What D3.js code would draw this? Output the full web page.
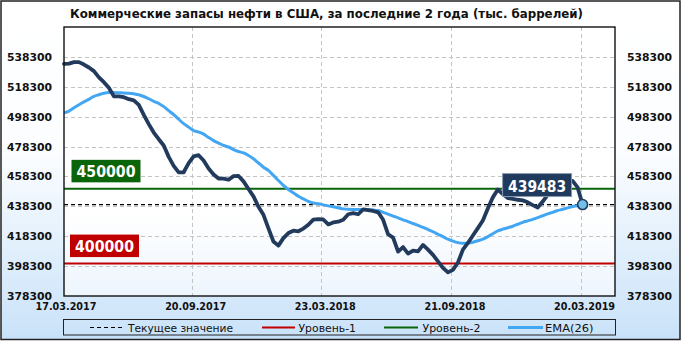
<!DOCTYPE html>
<html><head><meta charset="utf-8">
<script src="https://cdn.jsdelivr.net/npm/d3@7"></script>
<style>html,body{margin:0;padding:0;background:#fff;}svg{display:block;}</style>
</head><body>
<script>
// ---------- data ----------
const tickIndex = [0, 26, 52, 78, 104];
const tickLabels = ["17.03.2017", "20.09.2017", "23.03.2018", "21.09.2018", "20.03.2019"];
const yTicks = [378300, 398300, 418300, 438300, 458300, 478300, 498300, 518300, 538300];
const stocks = [
 533600,533800,534800,534800,533200,531200,528800,524600,521400,517600,
 511900,511900,511300,510000,509200,506200,499500,493300,487700,483200,
 479000,471400,465400,461000,461100,467200,471800,472500,469000,463600,
 459600,456900,456900,456100,458500,458600,455000,449900,445000,438000,
 432600,423600,414800,412000,417000,420400,422000,421600,423400,426000,
 429400,429800,429500,426200,427500,428000,429300,433000,433800,433000,
 436300,435800,435200,434300,429300,419600,417400,408000,411000,406700,
 408700,408100,412500,409300,405800,401500,397100,394100,395800,400700,
 409300,413800,418800,423700,428800,436800,444300,449500,446500,443800,
 443300,442700,442300,441000,439100,437500,441500,446000,450300,452600,
 453900,455000,455300,451000,439483
];
const ema26 = [
 500800,502000,504200,506300,508200,509900,511900,513000,514000,514400,
 514400,514300,514200,514000,513600,513000,511800,510300,508600,507100,
 505000,502300,499600,496600,493600,491300,489000,488000,486600,484300,
 482300,480600,479000,478000,476300,475000,474000,472300,470100,467300,
 464500,462300,459000,455600,452300,449600,447300,445000,443300,441600,
 440500,440100,439300,438600,438000,437300,436600,436300,436200,436200,
 436100,436000,435800,435500,434300,433100,431800,430600,429300,428100,
 426800,425500,424200,422800,421300,419600,418000,416300,415000,414000,
 413600,413600,414300,415300,416300,418000,420000,421800,423000,424000,
 425000,426300,427600,428600,429600,430700,432000,433300,434300,435500,
 436300,437300,438200,438800,439483
];
const level1 = 400000;
const level2 = 450000;
const currentValue = 439483;
const titleText = "Коммерческие запасы нефти в США, за последние 2 года (тыс. баррелей)";
const legendLabels = ["Текущее значение", "Уровень-1", "Уровень-2", "EMA(26)"];

// ---------- layout ----------
const W = 682, H = 341;
const P = {l: 64, r: 615, t: 27, b: 296};
const FONT = "DejaVu Sans";
const cNavy = "#223a5c", cBlue = "#42a6f3", cRed = "#c00000", cGreen = "#0a650a";

const svg = d3.select("body").append("svg").attr("width", W).attr("height", H)
  .style("font-family", FONT);
const defs = svg.append("defs");
const g1 = defs.append("linearGradient").attr("id", "bg").attr("x1", 0).attr("y1", 0).attr("x2", 0).attr("y2", 1);
g1.append("stop").attr("offset", "0").attr("stop-color", "#ffffff");
g1.append("stop").attr("offset", "0.45").attr("stop-color", "#fbfdff");
g1.append("stop").attr("offset", "1").attr("stop-color", "#c9e2f9");
const g2 = defs.append("linearGradient").attr("id", "pbg").attr("x1", 0).attr("y1", 0).attr("x2", 0).attr("y2", 1);
g2.append("stop").attr("offset", "0").attr("stop-color", "#ffffff");
g2.append("stop").attr("offset", "0.7").attr("stop-color", "#ffffff");
g2.append("stop").attr("offset", "1").attr("stop-color", "#edf5fd");

svg.append("rect").attr("x", 1).attr("y", 1).attr("width", 679).attr("height", 338.5)
  .attr("fill", "url(#bg)").attr("stroke", "#222").attr("stroke-width", 1.5);

const x = d3.scaleLinear().domain([0, 110.5]).range([P.l, P.r]);
const y = d3.scaleLinear().domain([378300, 558300]).range([P.b, P.t]);

svg.append("rect").attr("x", P.l).attr("y", P.t).attr("width", P.r - P.l).attr("height", P.b - P.t)
  .attr("fill", "url(#pbg)");

// grid
const grid = svg.append("g").attr("stroke", "#c4c4c4").attr("stroke-width", 1).attr("stroke-dasharray", "4,3");
grid.selectAll("line.h").data(yTicks.filter(v => v > 378300)).join("line")
  .attr("x1", P.l).attr("x2", P.r).attr("y1", d => Math.round(y(d)) + 0.5).attr("y2", d => Math.round(y(d)) + 0.5);
grid.selectAll("line.v").data(tickIndex.slice(1)).join("line")
  .attr("y1", P.t).attr("y2", P.b).attr("x1", d => Math.round(x(d)) - 1.5).attr("x2", d => Math.round(x(d)) - 1.5);

// axes labels
const fmt = d3.format("d");
const yAxisL = d3.axisLeft(y).tickValues(yTicks).tickFormat(fmt).tickSize(0).tickPadding(12);
const yAxisR = d3.axisRight(y).tickValues(yTicks).tickFormat(fmt).tickSize(0).tickPadding(12);
const gl = svg.append("g").attr("transform", `translate(${P.l},0)`).call(yAxisL);
const gr = svg.append("g").attr("transform", `translate(${P.r},0)`).call(yAxisR);
[gl, gr].forEach(g => {
  g.select(".domain").remove();
  g.selectAll("text").attr("font-family", FONT).attr("font-size", 10.8).attr("font-weight", "bold")
    .attr("fill", "#111").attr("textLength", 45).attr("lengthAdjust", "spacingAndGlyphs");
});
const xAxis = d3.axisBottom(x).tickValues(tickIndex).tickFormat((d, i) => tickLabels[i]).tickSize(0).tickPadding(7);
const gx = svg.append("g").attr("transform", `translate(1.5,${P.b})`).call(xAxis);
gx.select(".domain").remove();
gx.selectAll("text").attr("font-family", FONT).attr("font-size", 10.5).attr("font-weight", "bold")
  .attr("fill", "#111").attr("textLength", 61).attr("lengthAdjust", "spacingAndGlyphs");

// level lines
svg.append("line").attr("x1", P.l).attr("x2", P.r).attr("y1", y(level2)).attr("y2", y(level2))
  .attr("stroke", cGreen).attr("stroke-width", 2);
svg.append("line").attr("x1", P.l).attr("x2", P.r).attr("y1", y(level1)).attr("y2", y(level1))
  .attr("stroke", cRed).attr("stroke-width", 2);
svg.append("line").attr("x1", P.l).attr("x2", P.r).attr("y1", y(currentValue)).attr("y2", y(currentValue))
  .attr("stroke", "#000").attr("stroke-width", 1.2).attr("stroke-dasharray", "4,3");

// series
const lineEma = d3.line().x((d, i) => x(i)).y(d => y(d)).curve(d3.curveMonotoneX);
const lineStk = d3.line().x((d, i) => x(i)).y(d => y(d)).curve(d3.curveLinear);
svg.append("path").datum(ema26).attr("d", lineEma).attr("fill", "none")
  .attr("stroke", cBlue).attr("stroke-width", 3).attr("stroke-linejoin", "round");
svg.append("path").datum(stocks).attr("d", lineStk).attr("fill", "none")
  .attr("stroke", cNavy).attr("stroke-width", 3.8).attr("stroke-linejoin", "round").attr("stroke-linecap", "round");

// plot frame
svg.append("rect").attr("x", P.l).attr("y", P.t).attr("width", P.r - P.l).attr("height", P.b - P.t)
  .attr("fill", "none").attr("stroke", "#111").attr("stroke-width", 1.4);

// level label boxes
function levelBox(v, color, dx) {
  const by = y(v) - 29;
  svg.append("rect").attr("x", P.l + dx).attr("y", by).attr("width", 69).attr("height", 22.5).attr("fill", color);
  svg.append("text").attr("x", P.l + dx + 34.5).attr("y", by + 17.5).attr("text-anchor", "middle")
    .attr("font-size", 16).attr("font-weight", "bold").attr("fill", "#fff")
    .attr("textLength", 59).attr("lengthAdjust", "spacingAndGlyphs").text(fmt(v));
}
levelBox(level2, cGreen, 7.5);
levelBox(level1, cRed, 6);

// end marker
const li = stocks.length - 1;
svg.append("circle").attr("cx", x(li)).attr("cy", y(stocks[li])).attr("r", 5)
  .attr("fill", "#72bfea").attr("stroke", cNavy).attr("stroke-width", 1.6);

// current value box
const vbx = x(li) - 80, vby = y(currentValue) - 31;
svg.append("rect").attr("x", vbx).attr("y", vby).attr("width", 69).attr("height", 23)
  .attr("fill", "#1f3a5c").attr("stroke", "#8a9bb0").attr("stroke-width", 1);
svg.append("text").attr("x", vbx + 34.5).attr("y", vby + 18).attr("text-anchor", "middle")
  .attr("font-size", 16).attr("font-weight", "bold").attr("fill", "#fff")
  .attr("textLength", 58).attr("lengthAdjust", "spacingAndGlyphs").text(fmt(currentValue));

// title
svg.append("text").attr("x", 326.5).attr("y", 17.5).attr("text-anchor", "middle")
  .attr("font-size", 11.5).attr("font-weight", "bold").attr("fill", "#111")
  .attr("textLength", 513).attr("lengthAdjust", "spacingAndGlyphs").text(titleText);

// legend
svg.append("rect").attr("x", 63.5).attr("y", 319.5).attr("width", 552).attr("height", 15.5)
  .attr("fill", "none").attr("stroke", "#222").attr("stroke-width", 1);
const legendItems = [
  {x1: 90, x2: 122, tx: 128, tw: 105, color: "#000", dash: "4,3", w: 1.2},
  {x1: 262, x2: 295, tx: 298.5, tw: 57.5, color: cRed, dash: null, w: 2},
  {x1: 384, x2: 418, tx: 422.5, tw: 58, color: cGreen, dash: null, w: 2},
  {x1: 508, x2: 543, tx: 545, tw: 48.5, color: cBlue, dash: null, w: 3}
];
legendItems.forEach((it, i) => {
  svg.append("line").attr("x1", it.x1).attr("x2", it.x2).attr("y1", 327.5).attr("y2", 327.5)
    .attr("stroke", it.color).attr("stroke-width", it.w).attr("stroke-dasharray", it.dash);
  svg.append("text").attr("x", it.tx).attr("y", 331.5).attr("font-size", 11).attr("fill", "#111")
    .attr("textLength", it.tw).attr("lengthAdjust", "spacingAndGlyphs").text(legendLabels[i]);
});
</script>
</body></html>
